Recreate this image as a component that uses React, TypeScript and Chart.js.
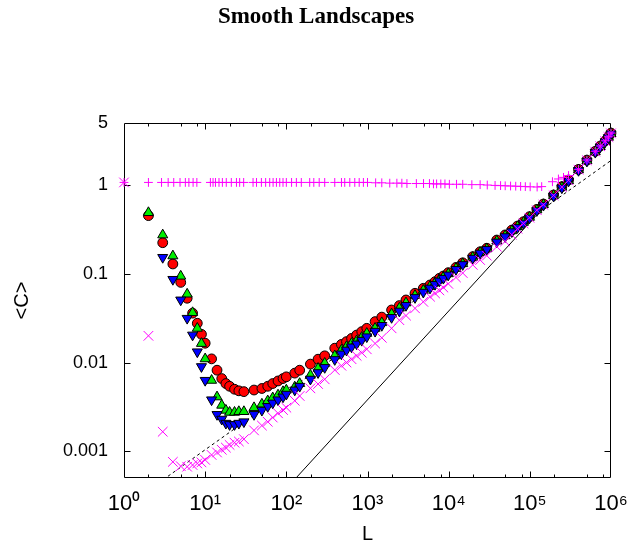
import React, { useEffect, useRef } from 'react';
import { Chart, registerables } from 'chart.js';

Chart.register(...registerables);

// ---------- text ----------
const TITLE = 'Smooth Landscapes';
const X_LABEL = 'L';
const Y_LABEL = '<C>';

// ---------- axes ----------
const X_MIN = 1;
const X_MAX = 1000000;
const Y_MIN = 0.0005;
const Y_MAX = 5;
const X_TICKS = [1, 10, 100, 1000, 10000, 100000, 1000000];
const X_TICK_LABELS = ['10⁰', '10¹', '10²', '10³', '10⁴', '10⁵', '10⁶'];
const Y_TICKS = [0.001, 0.01, 0.1, 1, 5];
const Y_TICK_LABELS = ['0.001', '0.01', '0.1', '1', '5'];
const X_MINOR_MANTISSAS = [2, 5, 8];

// ---------- data ----------
const L_SIM = [2, 3, 4, 5, 6, 7, 8, 9, 10, 12, 14, 16, 18, 20, 23, 26, 30, 40, 50, 59, 68, 79, 91, 100, 127, 146, 198, 246, 297, 395, 477, 551, 636, 735, 849, 980, 1240, 1500, 1980, 2470, 2980, 3850, 4870, 5890, 6790, 7680, 8600, 9900, 12300, 14900, 19800, 24400, 29500, 39200, 49600, 60000, 70500, 83500, 99000, 122000, 147000, 196000, 248000, 300000, 398000, 505000, 640000, 737000, 850000, 930000, 1000000];

const C_RED = [0.452, 0.224, 0.129, 0.080, 0.053, 0.036, 0.0277, 0.0208, 0.0165, 0.0110, 0.0082, 0.0066, 0.0058, 0.0054, 0.0050, 0.0048, 0.0047, 0.0049, 0.0051, 0.0054, 0.0058, 0.0062, 0.0066, 0.0069, 0.0076, 0.0082, 0.0096, 0.0109, 0.0119, 0.0145, 0.0160, 0.0172, 0.0187, 0.0204, 0.0223, 0.0243, 0.0289, 0.0325, 0.0391, 0.0438, 0.0507, 0.0603, 0.0686, 0.0748, 0.0815, 0.0889, 0.0944, 0.103, 0.118, 0.133, 0.156, 0.177, 0.194, 0.240, 0.274, 0.311, 0.345, 0.386, 0.440, 0.532, 0.611, 0.773, 0.959, 1.14, 1.50, 1.91, 2.40, 2.75, 3.15, 3.50, 3.85];

const C_GREEN = [0.489, 0.274, 0.159, 0.094, 0.059, 0.0365, 0.0243, 0.0164, 0.0110, 0.0063, 0.0041, 0.0033, 0.0029, 0.00275, 0.00275, 0.0028, 0.0028, 0.0031, 0.0034, 0.0037, 0.0040, 0.0043, 0.0047, 0.0049, 0.0053, 0.0058, 0.0072, 0.0086, 0.0098, 0.0119, 0.0138, 0.0151, 0.0164, 0.0176, 0.0192, 0.0213, 0.0243, 0.0281, 0.0352, 0.041, 0.047, 0.057, 0.065, 0.072, 0.079, 0.086, 0.092, 0.100, 0.115, 0.130, 0.153, 0.174, 0.191, 0.234, 0.268, 0.305, 0.339, 0.380, 0.433, 0.524, 0.602, 0.762, 0.945, 1.12, 1.48, 1.88, 2.37, 2.71, 3.10, 3.45, 3.80];

const L_BLUE = [3, 4, 5, 6, 7, 8, 9, 10, 12, 14, 16, 18, 20, 23, 26, 30, 40, 50, 59, 68, 79, 91, 100, 127, 146, 198, 246, 297, 395, 477, 551, 636, 735, 849, 980, 1240, 1500, 1980, 2470, 2980, 3850, 4870, 5890, 6790, 7680, 8600, 9900, 12300, 14900, 19800, 24400, 29500, 39200, 49600, 60000, 70500, 83500, 99000, 122000, 147000, 196000, 248000, 300000, 398000, 505000, 640000, 737000, 850000, 930000, 1000000];
const C_BLUE = [0.153, 0.0865, 0.0507, 0.0315, 0.0204, 0.0132, 0.0090, 0.0063, 0.0038, 0.0026, 0.0023, 0.00207, 0.0020, 0.0020, 0.00207, 0.00215, 0.0026, 0.0029, 0.0032, 0.0035, 0.0038, 0.0041, 0.0044, 0.0049, 0.0054, 0.0065, 0.0077, 0.0088, 0.0108, 0.0125, 0.0138, 0.0150, 0.0162, 0.0178, 0.0195, 0.0225, 0.0262, 0.0322, 0.038, 0.044, 0.054, 0.062, 0.069, 0.076, 0.083, 0.089, 0.097, 0.112, 0.127, 0.150, 0.171, 0.188, 0.228, 0.262, 0.298, 0.332, 0.372, 0.425, 0.515, 0.592, 0.750, 0.930, 1.11, 1.46, 1.86, 2.34, 2.68, 3.07, 3.42, 3.77];

const L_CROSS = [1, 2, 3, 4, 5, 6, 7, 8, 9, 10, 12, 14, 16, 18, 20, 23, 26, 30, 40, 50, 59, 68, 79, 91, 100, 127, 146, 198, 246, 297, 395, 477, 551, 636, 735, 849, 980, 1240, 1500, 1980, 2470, 2980, 3850, 4870, 5890, 6790, 7680, 8600, 9900, 12300, 14900, 19800, 24400, 29500, 39200, 49600, 60000, 70500, 83500, 99000, 122000, 147000, 196000, 248000, 300000, 398000, 505000, 640000, 737000, 850000, 930000, 1000000];
const C_CROSS = [1.07, 0.020, 0.00166, 0.00076, 0.00068, 0.00067, 0.00070, 0.00073, 0.00075, 0.00080, 0.00091, 0.00097, 0.00104, 0.00110, 0.00118, 0.00125, 0.00129, 0.00137, 0.00172, 0.00195, 0.00215, 0.00240, 0.00268, 0.00292, 0.00310, 0.00371, 0.00420, 0.00512, 0.00573, 0.00647, 0.00824, 0.00920, 0.0100, 0.0109, 0.0119, 0.0129, 0.0141, 0.0164, 0.0190, 0.0243, 0.0300, 0.0338, 0.0408, 0.0483, 0.0552, 0.0602, 0.0650, 0.0700, 0.0770, 0.0910, 0.102, 0.126, 0.143, 0.160, 0.202, 0.232, 0.275, 0.322, 0.370, 0.428, 0.520, 0.600, 0.765, 0.950, 1.13, 1.49, 1.90, 2.38, 2.73, 3.12, 3.47, 3.82];

const L_PLUS = [1, 2, 2.9, 3.5, 4.1, 4.9, 5.7, 6.3, 7.1, 7.9, 11.6, 12.5, 13.4, 14.8, 16.3, 18.2, 21, 24.3, 26.6, 29.8, 38.9, 42.9, 49.3, 55.6, 62.4, 68.7, 75.5, 83, 91, 100, 116, 133, 153, 194, 218, 254, 297, 395, 478, 524, 605, 697, 790, 890, 1000, 1260, 1500, 1880, 2300, 2650, 3060, 4000, 4900, 5800, 6500, 7100, 8000, 9000, 10200, 12500, 14900, 19300, 24400, 29900, 37300, 43600, 49700, 57900, 67000, 77000, 88000, 101000, 123000, 140000, 190000, 225000, 260000, 300000, 398000, 505000, 640000, 737000, 850000, 930000, 1000000];
const C_PLUS = [
  1.07, 1.07, 1.07, 1.07, 1.07, 1.07, 1.07, 1.07, 1.07, 1.07,
  1.07, 1.07, 1.07, 1.07, 1.07, 1.07, 1.07, 1.07, 1.07, 1.07,
  1.07, 1.07, 1.07, 1.07, 1.07, 1.07, 1.07, 1.07, 1.07, 1.07,
  1.07, 1.07, 1.07, 1.07, 1.07, 1.07, 1.07, 1.07, 1.07, 1.07,
  1.07, 1.07, 1.07, 1.07, 1.07,
  1.06, 1.06, 1.05, 1.05, 1.05, 1.04,
  1.04, 1.04, 1.04, 1.03, 1.03, 1.03, 1.03, 1.02,
  1.02, 1.02, 1.01, 1.01, 1.00,
  0.99, 0.985, 0.98, 0.975, 0.97, 0.965, 0.96, 0.955,
  0.95, 0.96, 1.09, 1.17, 1.22, 1.28,
  1.50, 1.91, 2.40, 2.75, 3.15, 3.50, 3.85,
];

// reference lines (end points)
const L_SOLID = [100, 1000000];
const C_SOLID = [0.00038, 3.8];
const L_DASHED = [1, 1000000];
const C_DASHED = [0.000232, 1.89];

const toPoints = (xs: number[], ys: number[]) => xs.map((x, i) => ({ x, y: ys[i] }));

const MAGENTA = '#ff00ff';
const SANS = "'Liberation Sans', Arial, sans-serif";

const framePlugin = {
  id: 'frame',
  beforeDatasetsDraw(chart: any) {
    const { ctx, chartArea: a, scales } = chart;
    const xs = scales.x;
    const ys = scales.y;
    const L = Math.round(a.left) + 0.5;
    const R = Math.round(a.right) - 0.5;
    const T = Math.round(a.top) + 0.5;
    const B = Math.round(a.bottom) - 0.5;
    ctx.save();
    ctx.strokeStyle = '#000';
    ctx.lineWidth = 1;
    ctx.beginPath();
    ctx.rect(L, T, R - L, B - T);
    for (let d = 0; d < 6; d++) {
      const base = Math.pow(10, d);
      [1, ...X_MINOR_MANTISSAS].forEach((m) => {
        const v = m * base;
        if (v <= X_MIN || v >= X_MAX) return;
        const px = Math.round(xs.getPixelForValue(v)) + 0.5;
        const len = m === 1 ? 6 : 3;
        ctx.moveTo(px, B);
        ctx.lineTo(px, B - len);
        ctx.moveTo(px, T);
        ctx.lineTo(px, T + len);
      });
    }
    Y_TICKS.forEach((v) => {
      if (v >= Y_MAX || v <= Y_MIN) return;
      const py = Math.round(ys.getPixelForValue(v)) + 0.5;
      ctx.moveTo(L, py);
      ctx.lineTo(L + 6, py);
      ctx.moveTo(R, py);
      ctx.lineTo(R - 6, py);
    });
    ctx.stroke();
    ctx.restore();
  },
};

export default function App() {
  const ref = useRef<HTMLCanvasElement>(null);
  useEffect(() => {
    if (!ref.current) return;
    const pointBase = { showLine: false, clip: false as any };
    const chart = new Chart(ref.current, {
      type: 'scatter',
      data: {
        datasets: [
          {
            label: 'solid',
            data: toPoints(L_SOLID, C_SOLID),
            showLine: true,
            borderColor: '#000',
            borderWidth: 1,
            pointRadius: 0,
            order: 7,
          },
          {
            label: 'dashed',
            data: toPoints(L_DASHED, C_DASHED),
            showLine: true,
            borderColor: '#000',
            borderWidth: 1,
            borderDash: [3, 3],
            pointRadius: 0,
            order: 6,
          },
          {
            ...pointBase,
            label: 'red',
            data: toPoints(L_SIM, C_RED),
            pointStyle: 'circle',
            pointRadius: 4.9,
            backgroundColor: '#ff0000',
            borderColor: '#000',
            borderWidth: 1,
            order: 5,
          },
          {
            ...pointBase,
            label: 'green',
            data: toPoints(L_SIM, C_GREEN),
            pointStyle: 'triangle',
            pointRadius: 5.8,
            backgroundColor: '#00ee00',
            borderColor: '#000',
            borderWidth: 1,
            order: 4,
          },
          {
            ...pointBase,
            label: 'blue',
            data: toPoints(L_BLUE, C_BLUE),
            pointStyle: 'triangle',
            pointRotation: 180,
            pointRadius: 5.8,
            backgroundColor: '#0000ff',
            borderColor: '#000',
            borderWidth: 1,
            order: 3,
          },
          {
            ...pointBase,
            label: 'cross',
            data: toPoints(L_CROSS, C_CROSS),
            pointStyle: 'crossRot',
            pointRadius: 6.8,
            borderColor: MAGENTA,
            backgroundColor: MAGENTA,
            borderWidth: 1,
            order: 2,
          },
          {
            ...pointBase,
            label: 'plus',
            data: toPoints(L_PLUS, C_PLUS),
            pointStyle: 'cross',
            pointRadius: 4.4,
            borderColor: MAGENTA,
            backgroundColor: MAGENTA,
            borderWidth: 1,
            order: 1,
          },
        ] as any,
      },
      options: {
        animation: false,
        responsive: false,
        events: [],
        layout: { padding: { left: 21, right: 19, top: 0, bottom: 0 } },
        plugins: {
          legend: { display: false },
          tooltip: { enabled: false },
          title: {
            display: true,
            text: TITLE,
            color: '#000',
            font: { family: "'Liberation Serif', 'DejaVu Serif', serif", size: 23, weight: 'bold', lineHeight: 1.2 },
            padding: { top: 3, bottom: 92.4 },
          },
        },
        scales: {
          x: {
            type: 'logarithmic',
            position: 'bottom',
            min: X_MIN,
            max: X_MAX,
            grid: { display: false, drawTicks: false },
            border: { display: false },
            afterBuildTicks: (s: any) => {
              s.ticks = X_TICKS.map((v) => ({ value: v }));
            },
            afterFit: (s: any) => {
              s.height = 66;
              s.paddingLeft = 0;
              s.paddingRight = 0;
            },
            ticks: {
              autoSkip: false,
              maxRotation: 0,
              padding: 13,
              color: '#000',
              font: { family: SANS, size: 22 },
              callback: (v: any) => X_TICK_LABELS[X_TICKS.indexOf(Number(v))] ?? '',
            },
            title: {
              display: true,
              text: X_LABEL,
              color: '#000',
              font: { family: SANS, size: 20, lineHeight: 1 },
              padding: { top: 0, bottom: 0 },
            },
          },
          y: {
            type: 'logarithmic',
            position: 'left',
            min: Y_MIN,
            max: Y_MAX,
            grid: { display: false, drawTicks: false },
            border: { display: false },
            afterBuildTicks: (s: any) => {
              s.ticks = Y_TICKS.map((v) => ({ value: v }));
            },
            afterFit: (s: any) => {
              s.width = 103;
              s.paddingTop = 0;
              s.paddingBottom = 0;
            },
            ticks: {
              autoSkip: false,
              padding: 16,
              color: '#000',
              font: { family: SANS, size: 18 },
              callback: (v: any) => Y_TICK_LABELS[Y_TICKS.indexOf(Number(v))] ?? '',
            },
            title: {
              display: true,
              text: Y_LABEL,
              color: '#000',
              font: { family: SANS, size: 20, lineHeight: 1 },
              padding: { top: -9, bottom: 0 },
            },
          },
        },
      } as any,
      plugins: [framePlugin],
    });
    return () => chart.destroy();
  }, []);
  return (
    <div style={{ position: 'absolute', left: 0, top: 0, width: 630, height: 544, background: '#fff' }}>
      <canvas ref={ref} width={630} height={544} style={{ width: 630, height: 544, display: 'block' }} />
    </div>
  );
}
